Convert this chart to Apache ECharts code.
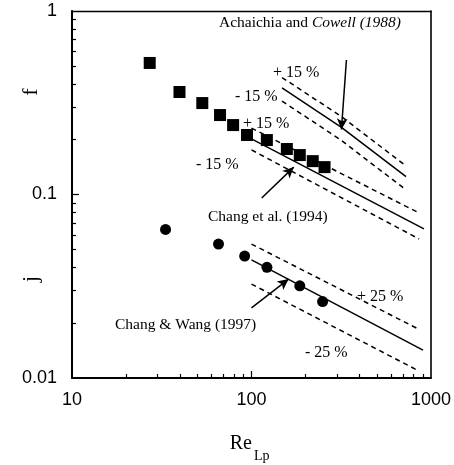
<!DOCTYPE html>
<html>
<head>
<meta charset="utf-8">
<script src="https://cdn.jsdelivr.net/npm/echarts@6/dist/echarts.min.js"></script>
<style>
  html, body { margin: 0; padding: 0; background: #fff; }
  #chart { width: 454px; height: 465px; }
</style>
</head>
<body>
<div id="chart"></div>
<script>
// data
const reSquares = [27.1, 39.7, 53.2, 66.8, 79.0, 94.4, 121.8, 157.4, 185.8, 219.4, 255.3];
const fSquares = [0.521, 0.362, 0.315, 0.271, 0.239, 0.211, 0.198, 0.177, 0.164, 0.152, 0.141];
const reCircles = [33.2, 65.5, 91.6, 121.9, 185.8, 249];
const jCircles = [0.0645, 0.0537, 0.0462, 0.0401, 0.0318, 0.0261];

// Achaichia and Cowell (1988) correlation, +/-15 %
const reAchaichia = [148, 317, 726];
const fAchaichia = [0.381, 0.232, 0.125];
const fAchaichiaUp = [0.434, 0.266, 0.143];
const fAchaichiaLow = [0.323, 0.197, 0.106];
// Chang et al. (1994), +/-15 %
const reChang94 = [100, 914];
const fChang94 = [0.201, 0.0649];
const reChang94Band = [100, 859];
const fChang94Up = [0.230, 0.0793];
const fChang94Low = [0.175, 0.0572];
// Chang & Wang (1997), +/-25 %
const reChangWang = [100, 903];
const jChangWang = [0.0440, 0.0142];
const reChangWangBand = [100, 859];
const jChangWangUp = [0.0537, 0.0184];
const jChangWangLow = [0.0325, 0.0109];

// tick values
const xLabels = [10, 100, 1000];
const xMinorTicks = [20, 30, 40, 50, 60, 70, 80, 90, 200, 300, 400, 500, 600, 700, 800, 900];
const yLabels = [0.01, 0.1, 1];
const yMinorTicks = [0.02, 0.03, 0.04, 0.05, 0.06, 0.07, 0.08, 0.09, 0.2, 0.3, 0.4, 0.5, 0.6, 0.7, 0.8, 0.9];

const zip = (xs, ys) => xs.map((x, i) => [x, ys[i]]);

const chart = echarts.init(document.getElementById('chart'));
const serif = '"Liberation Serif", "Times New Roman", serif';
const sans = '"Liberation Sans", Arial, sans-serif';
const ink = '#000';

function curve(xs, ys, dashed) {
  return {
    type: 'line',
    data: zip(xs, ys),
    symbol: 'none',
    silent: true,
    lineStyle: { color: ink, width: 1.5, type: dashed ? [5, 4] : 'solid' },
  };
}

const arrowLine = (from, to) => [{ coord: from }, { coord: to }];
const plain = (v) => String(v);

const option = {
  animation: false,
  grid: { left: 72, right: 21, top: 11, bottom: 87 },
  xAxis: [
    {
      type: 'log', logBase: 10, min: 10, max: 1000, position: 'bottom',
      axisLine: { lineStyle: { color: ink, width: 2 } },
      axisTick: { inside: true, length: 4, customValues: xMinorTicks, lineStyle: { color: ink, width: 1.2 } },
      axisLabel: { customValues: xLabels, formatter: plain, margin: 13, fontSize: 18, fontFamily: sans, color: ink },
      splitLine: { show: false },
    },
    {
      type: 'log', logBase: 10, min: 10, max: 1000, position: 'bottom',
      axisLine: { show: false },
      axisTick: { inside: true, length: 7, customValues: [100], lineStyle: { color: ink, width: 1.2 } },
      axisLabel: { show: false },
      splitLine: { show: false },
    },
    {
      type: 'log', logBase: 10, min: 10, max: 1000, position: 'top',
      axisLine: { lineStyle: { color: ink, width: 1.3 } },
      axisTick: { show: false },
      axisLabel: { show: false },
      splitLine: { show: false },
    },
  ],
  yAxis: [
    {
      type: 'log', logBase: 10, min: 0.01, max: 1, position: 'left',
      axisLine: { lineStyle: { color: ink, width: 2 } },
      axisTick: { inside: true, length: 4, customValues: yMinorTicks, lineStyle: { color: ink, width: 1.2 } },
      axisLabel: { customValues: yLabels, formatter: plain, margin: 15, fontSize: 18, fontFamily: sans, color: ink },
      splitLine: { show: false },
    },
    {
      type: 'log', logBase: 10, min: 0.01, max: 1, position: 'left',
      axisLine: { show: false },
      axisTick: { inside: true, length: 7, customValues: [0.1], lineStyle: { color: ink, width: 1.2 } },
      axisLabel: { show: false },
      splitLine: { show: false },
    },
    {
      type: 'log', logBase: 10, min: 0.01, max: 1, position: 'right',
      axisLine: { lineStyle: { color: ink, width: 1.6 } },
      axisTick: { show: false },
      axisLabel: { show: false },
      splitLine: { show: false },
    },
  ],
  series: [
    curve(reAchaichia, fAchaichia, false),
    curve(reAchaichia, fAchaichiaUp, true),
    curve(reAchaichia, fAchaichiaLow, true),
    curve(reChang94, fChang94, false),
    curve(reChang94Band, fChang94Up, true),
    curve(reChang94Band, fChang94Low, true),
    curve(reChangWang, jChangWang, false),
    curve(reChangWangBand, jChangWangUp, true),
    curve(reChangWangBand, jChangWangLow, true),
    {
      name: 'f',
      type: 'scatter',
      data: zip(reSquares, fSquares),
      symbol: 'rect',
      symbolSize: 12,
      itemStyle: { color: ink, opacity: 1 },
      // arrows pointing at the correlations
      markLine: {
        silent: true,
        symbol: ['none', 'arrow'],
        symbolSize: [8, 11],
        label: { show: false },
        lineStyle: { color: ink, width: 1.5, type: 'solid' },
        data: [
          arrowLine([338, 0.541], [317, 0.226]),
          arrowLine([114, 0.0957], [172, 0.141]),
          arrowLine([100, 0.0241], [161, 0.0346]),
        ],
      },
    },
    {
      name: 'j',
      type: 'scatter',
      data: zip(reCircles, jCircles),
      symbol: 'circle',
      symbolSize: 11,
      itemStyle: { color: ink, opacity: 1 },
    },
  ],
  graphic: [
    {
      type: 'text', x: 310, y: 23,
      style: {
        text: '{n|Achaichia and }{i|Cowell (1988)}',
        align: 'center', verticalAlign: 'middle',
        rich: {
          n: { fontFamily: serif, fontSize: 15.5, fill: ink },
          i: { fontFamily: serif, fontSize: 15.5, fontStyle: 'italic', fill: ink },
        },
      },
    },
    { type: 'text', x: 273, y: 73, style: { text: '+ 15 %', fontFamily: serif, fontSize: 16, fill: ink, verticalAlign: 'middle' } },
    { type: 'text', x: 235, y: 97, style: { text: '- 15 %', fontFamily: serif, fontSize: 16, fill: ink, verticalAlign: 'middle' } },
    { type: 'text', x: 243, y: 124, style: { text: '+ 15 %', fontFamily: serif, fontSize: 16, fill: ink, verticalAlign: 'middle' } },
    { type: 'text', x: 196, y: 165, style: { text: '- 15 %', fontFamily: serif, fontSize: 16, fill: ink, verticalAlign: 'middle' } },
    { type: 'text', x: 208, y: 217, style: { text: 'Chang et al. (1994)', fontFamily: serif, fontSize: 15.5, fill: ink, verticalAlign: 'middle' } },
    { type: 'text', x: 357, y: 297, style: { text: '+ 25 %', fontFamily: serif, fontSize: 16, fill: ink, verticalAlign: 'middle' } },
    { type: 'text', x: 115, y: 325, style: { text: 'Chang & Wang (1997)', fontFamily: serif, fontSize: 15.5, fill: ink, verticalAlign: 'middle' } },
    { type: 'text', x: 305, y: 353, style: { text: '- 25 %', fontFamily: serif, fontSize: 16, fill: ink, verticalAlign: 'middle' } },
    // axis titles
    { type: 'text', x: 31, y: 92, rotation: Math.PI / 2, style: { text: 'f', fontFamily: serif, fontSize: 22, fill: ink, align: 'center', verticalAlign: 'middle' } },
    { type: 'text', x: 31, y: 279, rotation: Math.PI / 2, style: { text: 'j', fontFamily: serif, fontSize: 22, fill: ink, align: 'center', verticalAlign: 'middle' } },
    { type: 'text', x: 252, y: 444, style: { text: 'Re', fontFamily: serif, fontSize: 20, fill: ink, align: 'right', verticalAlign: 'middle' } },
    { type: 'text', x: 254, y: 456, style: { text: 'Lp', fontFamily: serif, fontSize: 14, fill: ink, align: 'left', verticalAlign: 'middle' } },
  ],
};

chart.setOption(option);
</script>
</body>
</html>
